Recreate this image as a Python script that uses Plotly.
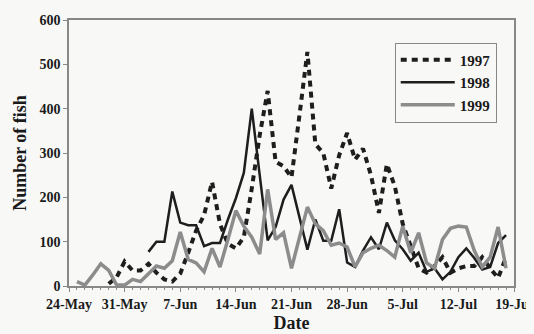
import plotly.graph_objects as go

# Day offsets from 24-May
tick_days = [0, 7, 14, 21, 28, 35, 42, 49, 56]
tick_labels = ["24-May", "31-May", "7-Jun", "14-Jun", "21-Jun", "28-Jun", "5-Jul", "12-Jul", "19-Jul"]

days_1997 = list(range(5, 56))
fish_1997 = [5, 20, 55, 35, 35, 50, 30, 15, 10, 28,
             75, 125, 160, 235, 140, 95, 85, 110, 220, 340,
             440, 280, 270, 245, 385, 528, 320, 300, 220, 295,
             345, 285, 310, 250, 165, 275, 225, 140, 90, 40,
             30, 45, 65, 30, 40, 45, 45, 65, 40, 18,
             65]

days_1998 = list(range(10, 56))
fish_1998 = [77, 100, 100, 213, 143, 137, 137, 90, 97, 97,
             150, 198, 255, 400, 250, 103, 133, 195, 228, 155,
             82, 150, 102, 102, 173, 53, 43, 80, 110, 83,
             143, 103, 83, 57, 75, 32, 40, 15, 32, 65,
             85, 63, 37, 43, 97, 115]

days_1999 = list(range(1, 56))
fish_1999 = [10, 2, 25, 50, 35, 2, 2, 15, 10, 28,
             45, 40, 57, 122, 60, 52, 32, 85, 43, 105,
             170, 135, 110, 72, 218, 105, 120, 40, 110, 178,
             140, 125, 92, 97, 88, 43, 75, 85, 92, 80,
             65, 135, 75, 120, 52, 40, 105, 130, 135, 133,
             80, 43, 65, 133, 40]

serif = "Liberation Serif"
bg = "#f8f8f7"
ink = "#1a1a1a"

fig = go.Figure()
fig.add_trace(go.Scatter(x=days_1997, y=fish_1997, mode="lines", name="1997",
                         line=dict(color="#1e1e1e", width=4, dash="6px,5px")))
fig.add_trace(go.Scatter(x=days_1998, y=fish_1998, mode="lines", name="1998",
                         line=dict(color="#1e1e1e", width=2.5)))
fig.add_trace(go.Scatter(x=days_1999, y=fish_1999, mode="lines", name="1999",
                         line=dict(color="#8c8c8c", width=3.5)))

# The page body adds an 8px margin, so the figure is sized to fit the 534x334 window.
fig.update_layout(
    width=526, height=326,
    margin=dict(l=61, r=20, t=12, b=48, autoexpand=False),
    paper_bgcolor=bg, plot_bgcolor=bg,
    font=dict(family=serif, size=14, color=ink),
    showlegend=True,
    legend=dict(x=0.732, y=0.915, xanchor="left", yanchor="top",
                bgcolor=bg, bordercolor="#888888", borderwidth=1,
                font=dict(family=serif, size=15, color=ink, weight="bold"),
                itemwidth=54, tracegroupgap=0),
    xaxis=dict(range=[0, 56], tickmode="array", tickvals=tick_days, ticktext=tick_labels,
               showgrid=False, zeroline=False, showline=True, linecolor="#888888", linewidth=1.5,
               mirror=True, ticks="outside", ticklen=4, tickcolor="#888888",
               tickfont=dict(family=serif, size=14, color=ink, weight="bold"),
               minor=dict(tickmode="linear", tick0=0, dtick=1, ticks="outside", ticklen=2,
                          tickcolor="#888888", showgrid=False),
               title=dict(text="Date", font=dict(family=serif, size=18, color=ink, weight="bold"),
                          standoff=6)),
    yaxis=dict(range=[0, 600], tickmode="linear", tick0=0, dtick=100,
               showgrid=False, zeroline=False, showline=True, linecolor="#888888", linewidth=1.5,
               mirror=True, ticks="outside", ticklen=4, tickcolor="#888888",
               tickfont=dict(family=serif, size=14, color=ink, weight="bold"),
               title=dict(text="Number of fish", font=dict(family=serif, size=18, color=ink, weight="bold"),
                          standoff=8)),
)

fig.write_html("out.html", post_script="document.body.style.background='#f8f8f7';")
